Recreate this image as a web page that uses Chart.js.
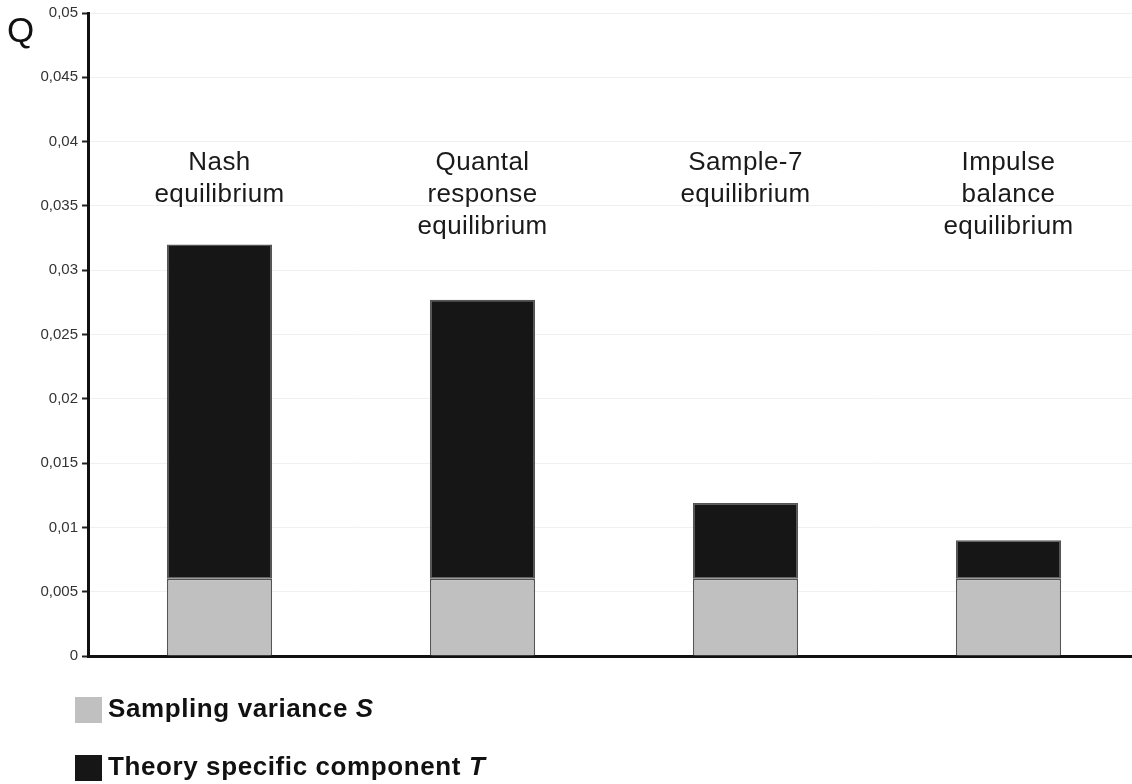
<!DOCTYPE html>
<html>
<head>
<meta charset="utf-8">
<script src="https://cdn.jsdelivr.net/npm/chart.js@4.4.1/dist/chart.umd.min.js"></script>
<style>
  html, body { margin: 0; padding: 0; background: #fff; overflow: hidden; width: 1132px; height: 784px; }
  #wrap { position: absolute; left: 0; top: 0; width: 1160px; height: 784px; }
  #qlabel { position: absolute; left: 7px; top: 10px; font: 35px "Liberation Sans", Arial, sans-serif; color: #111; }
  .leg { position: absolute; left: 75px; font: bold 26px "Liberation Sans", Arial, sans-serif; color: #111; letter-spacing: 0.6px; white-space: nowrap; }
  .leg .box { position: absolute; left: 0; width: 27px; height: 26px; }
  .leg .txt { position: absolute; left: 33px; top: -4px; }
</style>
</head>
<body>
<div id="wrap"><canvas id="c" width="1160" height="784"></canvas></div>
<div id="qlabel">Q</div>
<div id="legend"></div>
<script>
// ---- data ----
const categories = [
  ["Nash", "equilibrium"],
  ["Quantal", "response", "equilibrium"],
  ["Sample-7", "equilibrium"],
  ["Impulse", "balance", "equilibrium"]
];
const samplingVariance = [0.006, 0.006, 0.006, 0.006];
const theoryComponent = [0.026, 0.0217, 0.0059, 0.003];
const seriesNames = ["Sampling variance ", "Theory specific component "];
const seriesSymbols = ["S", "T"];
const seriesColors = ["#c0c0c0", "#161616"];
const yTicks = [0, 0.005, 0.01, 0.015, 0.02, 0.025, 0.03, 0.035, 0.04, 0.045, 0.05];

// legend (HTML, for the italic symbol)
const legendEl = document.getElementById('legend');
const legendTops = [697, 755];
seriesNames.forEach((n, i) => {
  const d = document.createElement('div');
  d.className = 'leg';
  d.style.top = legendTops[i] + 'px';
  d.innerHTML = '<div class="box" style="background:' + seriesColors[i] + '"></div>' +
    '<div class="txt">' + n + '<i>' + seriesSymbols[i] + '</i></div>';
  legendEl.appendChild(d);
});

const catLabelPlugin = {
  id: 'catLabels',
  afterDatasetsDraw(chart) {
    const ctx = chart.ctx;
    const xs = chart.scales.x;
    const top = chart.chartArea.top;
    ctx.save();
    ctx.font = '26px "Liberation Sans", Arial, sans-serif';
    ctx.fillStyle = '#1a1a1a';
    ctx.textAlign = 'center';
    ctx.textBaseline = 'alphabetic';
    try { ctx.letterSpacing = '0.4px'; } catch (e) {}
    categories.forEach((lines, i) => {
      const x = xs.getPixelForValue(i);
      lines.forEach((t, j) => {
        ctx.fillText(t, x, top + 157 + j * 32);
      });
    });
    ctx.restore();
  }
};

new Chart(document.getElementById('c'), {
  type: 'bar',
  data: {
    labels: categories.map(c => c.join(' ')),
    datasets: [
      { label: seriesNames[0] + seriesSymbols[0], data: samplingVariance, backgroundColor: seriesColors[0],
        borderColor: '#555', borderWidth: 1.5, borderSkipped: 'bottom' },
      { label: seriesNames[1] + seriesSymbols[1], data: theoryComponent, backgroundColor: seriesColors[1],
        borderColor: '#555', borderWidth: 1.5, borderSkipped: false }
    ]
  },
  options: {
    responsive: false,
    animation: false,
    layout: { padding: { top: 13, left: 0, right: 20, bottom: 128 } },
    plugins: { legend: { display: false }, tooltip: { enabled: false } },
    datasets: { bar: { categoryPercentage: 1.0, barPercentage: 0.4 } },
    scales: {
      x: {
        stacked: true,
        ticks: { display: false },
        grid: { display: true, drawOnChartArea: false, drawTicks: false },
        border: { display: true, color: '#111', width: 3 },
        afterFit(s) { s.height = 0; }
      },
      y: {
        stacked: true,
        min: 0, max: 0.05,
        afterBuildTicks(s) { s.ticks = yTicks.map(v => ({ value: v })); },
        ticks: {
          color: '#333',
          padding: 4,
          font: { family: '"Liberation Sans", Arial, sans-serif', size: 15 },
          callback: v => String(Number(v.toFixed(3))).replace('.', ',')
        },
        grid: { color: '#f0f0f0', lineWidth: 1, tickColor: '#222', tickLength: 6, tickWidth: 2 },
        border: { display: true, color: '#111', width: 3 },
        afterFit(s) { s.width = 88; }
      }
    }
  },
  plugins: [catLabelPlugin]
});
</script>
</body>
</html>
